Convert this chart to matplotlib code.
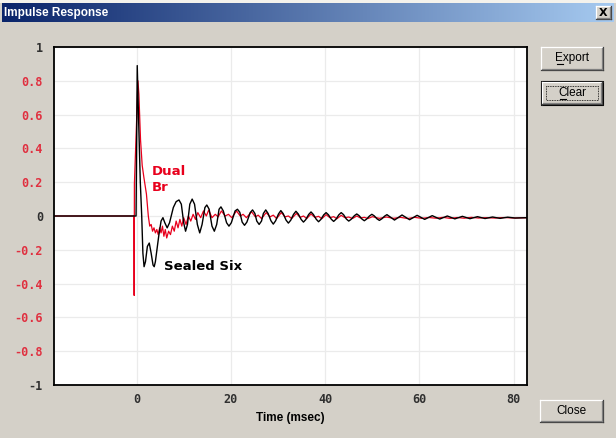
# Impulse response dialog: Sealed Six vs Dual Br
import numpy as np
import matplotlib.pyplot as plt
from matplotlib.patches import Rectangle
from matplotlib.colors import LinearSegmentedColormap

# Sealed Six (black), time in msec
six_t = [-17.5, -0.1, 0.15, 0.45, 0.8, 1.1, 1.35, 1.6, 1.9, 2.3, 2.7, 3.1,
         3.5, 3.75, 4.0, 4.7, 5.2, 5.6, 6.0, 6.5, 7.0, 7.8, 8.4, 9.0, 9.5,
         10.0, 10.4, 10.8, 11.3, 11.8, 12.3, 12.9, 13.4, 13.9, 14.5, 14.9,
         15.4, 16.0, 16.5, 17.0, 17.5, 17.9, 18.4, 19.1, 19.6, 20.1, 20.9,
         21.4, 21.9, 22.4, 22.9, 23.4, 24.1, 24.6, 25.1, 25.5, 26.0, 26.5,
         26.9, 27.4, 27.9, 28.5, 29.0, 29.5, 30.1, 30.6, 31.1, 31.7, 32.2,
         32.7, 33.3, 33.8, 34.3, 34.9, 35.4, 35.9, 36.5, 37.0, 37.5, 38.1,
         38.6, 39.1, 39.7, 40.2, 40.7, 41.3, 41.8, 42.3, 42.9, 43.4, 43.9,
         44.5, 45.0, 45.5, 46.2, 46.7, 47.2, 47.8, 48.3, 48.8, 49.4, 49.9,
         50.4, 51.0, 51.5, 52.0, 52.6, 53.1, 54.7, 56.3, 57.9, 59.5, 61.1,
         62.7, 64.3, 65.9, 67.5, 69.1, 70.7, 72.3, 73.9, 75.5, 77.1, 78.7,
         80.3, 82.8]
six_v = [0, 0, 0.89, 0.56, 0.2, 0.0, -0.22, -0.30, -0.27, -0.18, -0.16,
         -0.22, -0.29, -0.30, -0.27, -0.12, -0.03, -0.01, -0.04, -0.07,
         -0.04, 0.05, 0.085, 0.095, 0.07, -0.04, -0.09, -0.05, 0.07, 0.10,
         0.07, -0.05, -0.10, -0.05, 0.05, 0.065, 0.04, -0.06, -0.09, -0.05,
         0.04, 0.054, 0.03, -0.04, -0.06, -0.04, 0.03, 0.04, 0.022, -0.036,
         -0.055, -0.036, 0.02, 0.036, 0.015, -0.03, -0.05, -0.03, 0.015,
         0.036, 0.015, -0.028, -0.048, -0.028, 0.012, 0.032, 0.014, -0.024,
         -0.042, -0.025, 0.01, 0.028, 0.012, -0.02, -0.036, -0.021, 0.009,
         0.024, 0.009, -0.019, -0.034, -0.02, 0.007, 0.02, 0.007, -0.019,
         -0.032, -0.019, 0.007, 0.02, 0.008, -0.018, -0.03, -0.02, 0.002,
         0.012, 0.002, -0.018, -0.028, -0.018, 0.0, 0.01, 0.001, -0.017,
         -0.026, -0.017, -0.001, 0.008, -0.024, 0.006, -0.022, 0.004, -0.02,
         0.002, -0.018, 0.0, -0.017, -0.002, -0.016, -0.004, -0.015, -0.006,
         -0.014, -0.007, -0.012, -0.01]

# Dual Br (red)
dual_t = [-17.5, -0.55, -0.5, -0.45, 0.0, 0.3, 0.5, 0.85, 1.2, 1.55, 2.1, 2.5,
          2.8, 3.1, 3.4, 3.7, 4.0, 4.3, 4.6, 4.9, 5.2, 5.5, 5.8, 6.1, 6.4,
          6.8, 7.2, 7.6, 8.0, 8.4, 8.8, 9.2, 9.6, 10.0, 10.5, 11.0, 11.5,
          12.0, 12.5, 13.0, 13.6, 14.2, 14.8, 15.3, 16.0, 16.7, 17.3, 18.0,
          18.8, 19.5, 20.2, 21.2, 22.0, 22.6, 23.3, 24.4, 25.2, 25.8, 26.5,
          27.5, 28.3, 29.0, 29.7, 30.7, 31.5, 32.2, 32.9, 33.9, 34.7, 35.4,
          36.1, 37.0, 37.8, 38.6, 39.3, 40.2, 41.0, 41.8, 42.5, 43.4, 44.2,
          45.0, 45.8, 46.7, 47.5, 48.3, 49.1, 50.0, 51.5, 53.0, 54.5, 56.0,
          57.5, 59.0, 60.5, 62.0, 63.5, 65.0, 66.5, 68.0, 69.5, 71.0, 72.5,
          74.0, 76.0, 78.0, 80.0, 82.8]
dual_v = [0, 0, -0.47, 0.19, 0.55, 0.80, 0.72, 0.45, 0.30, 0.23, 0.13, 0.0,
          -0.06, -0.05, -0.09, -0.07, -0.10, -0.08, -0.11, -0.07, -0.10,
          -0.06, -0.12, -0.08, -0.13, -0.09, -0.11, -0.06, -0.09, -0.03,
          -0.07, -0.02, -0.06, -0.01, -0.05, 0.0, -0.03, 0.01, -0.02, 0.02,
          -0.01, 0.03, 0.0, 0.035, -0.01, 0.01, -0.005, 0.03, 0.0, 0.01,
          -0.01, 0.03, 0.0, 0.01, -0.01, 0.025, -0.005, 0.005, -0.015, 0.02,
          -0.005, 0.005, -0.015, 0.02, -0.005, 0.0, -0.015, 0.015, -0.008,
          0.0, -0.015, 0.012, -0.008, -0.002, -0.016, 0.008, -0.01, -0.004,
          -0.016, 0.004, -0.01, -0.006, -0.015, 0.0, -0.012, -0.008, -0.015,
          -0.004, -0.014, -0.006, -0.014, -0.008, -0.015, -0.008, -0.014,
          -0.009, -0.013, -0.008, -0.014, -0.009, -0.013, -0.008, -0.012,
          -0.01, -0.012, -0.009, -0.012, -0.01]

y_ticks = [1, 0.8, 0.6, 0.4, 0.2, 0, -0.2, -0.4, -0.6, -0.8, -1]
x_ticks = [0, 20, 40, 60, 80]

W, H = 616, 438
BG = '#d4d0c8'
UI_FONT = ['Liberation Sans Narrow', 'Liberation Sans', 'DejaVu Sans']


def bevel(ax, x0, y0, x1, y1):
    ax.plot([x0, x1], [y0, y0], color='white', lw=0.9)
    ax.plot([x0, x0], [y0, y1], color='white', lw=0.9)
    ax.plot([x0, x1], [y1, y1], color='#404040', lw=0.9)
    ax.plot([x1, x1], [y0, y1], color='#404040', lw=0.9)
    ax.plot([x0 + 1, x1 - 1], [y1 - 1, y1 - 1], color='#808080', lw=0.9)
    ax.plot([x1 - 1, x1 - 1], [y0 + 1, y1 - 1], color='#808080', lw=0.9)


def button(ax, x0, y0, x1, y1, label, under=None, default=False):
    ax.add_patch(Rectangle((x0, y0), x1 - x0, y1 - y0, fc=BG, ec='none'))
    if default:
        ax.add_patch(Rectangle((x0 - 1, y0 - 1), x1 - x0 + 2, y1 - y0 + 2,
                               fc='none', ec='black', lw=0.8))
    bevel(ax, x0, y0, x1, y1)
    if default:
        ax.add_patch(Rectangle((x0 + 4, y0 + 4), x1 - x0 - 8, y1 - y0 - 8,
                               fc='none', ec='black', lw=0.6, ls=(0, (1, 1))))
    cx, cy = (x0 + x1) / 2, (y0 + y1) / 2
    ax.text(cx, cy, label, ha='center', va='center', fontsize=8.5,
            family='Liberation Sans', color='black')
    if under is not None:
        ax.plot(under, [cy + 5.5, cy + 5.5], color='black', lw=0.8)


def _main():
    fig = plt.figure(figsize=(W / 100, H / 100), dpi=100, facecolor=BG)

    # window chrome
    bg = fig.add_axes([0, 0, 1, 1])
    bg.axis('off')
    bg.add_patch(Rectangle((0, 0), W, 3, fc='#f4f2ec', ec='none'))
    grad = np.linspace(0, 1, 256).reshape(1, -1)
    cm = LinearSegmentedColormap.from_list('tb', ['#0a246a', '#a6caf0'])
    bg.imshow(grad, cmap=cm, aspect='auto', extent=(2, W - 2, 22, 3))
    bg.set_xlim(0, W)
    bg.set_ylim(H, 0)
    bg.text(4, 13, 'Impulse Response', color='white', fontsize=8.5,
            fontweight='bold', family=UI_FONT, va='center')
    bx0, by0, bx1, by1 = 596, 6, 611, 19
    bg.add_patch(Rectangle((bx0, by0), bx1 - bx0, by1 - by0, fc=BG, ec='none'))
    bevel(bg, bx0, by0, bx1, by1)
    bg.text((bx0 + bx1) / 2 - 0.5, (by0 + by1) / 2, 'X', ha='center',
            va='center', fontsize=8, fontweight='bold', color='black')

    button(bg, 541, 47, 603, 70, 'Export', under=(557, 563))
    button(bg, 542, 82, 602, 104, 'Clear', under=(560, 566), default=True)
    button(bg, 540, 400, 603, 422, 'Close')

    # plot area
    ax = fig.add_axes([54 / W, 1 - 385 / H, (527 - 54) / W, (385 - 47) / H])
    ax.set_facecolor('white')
    ax.plot(dual_t, dual_v, color='#e8001c', lw=0.9)
    ax.plot(six_t, six_v, color='black', lw=1.0)

    ax.set_xlim(-17.5, 82.8)
    ax.set_ylim(-1, 1)
    ax.set_yticks(y_ticks)
    ax.set_xticks(x_ticks)
    ax.set_yticklabels([f'{v:g}' for v in y_ticks])
    ax.grid(True, color='#ebebeb', lw=0.9)
    ax.set_axisbelow(True)
    ax.tick_params(length=0, labelsize=8.5)
    ax.tick_params(axis='y', pad=8)
    ax.tick_params(axis='x', pad=6)
    for lab in ax.get_yticklabels() + ax.get_xticklabels():
        lab.set_family('DejaVu Sans Mono')
        lab.set_fontweight('bold')
        lab.set_color('#303030')
    for lab, v in zip(ax.get_yticklabels(), y_ticks):
        if v not in (1, 0, -1):
            lab.set_color('#e03040')
    for s in ax.spines.values():
        s.set_color('black')
        s.set_linewidth(1.3)

    ax.set_xlabel('Time (msec)', fontsize=8.5, fontweight='bold',
                  family='Liberation Sans', labelpad=4)

    ax.text(3.2, 0.266, 'Dual', color='#e8001c', fontsize=9.5,
            fontweight='bold', va='center')
    ax.text(3.2, 0.166, 'Br', color='#e8001c', fontsize=9.5,
            fontweight='bold', va='center')
    ax.text(5.85, -0.296, 'Sealed Six', color='black', fontsize=9.5,
            fontweight='bold', va='center')

    fig.savefig('out.png', dpi=100, facecolor=BG)


if __name__ == '__main__':
    _main()
